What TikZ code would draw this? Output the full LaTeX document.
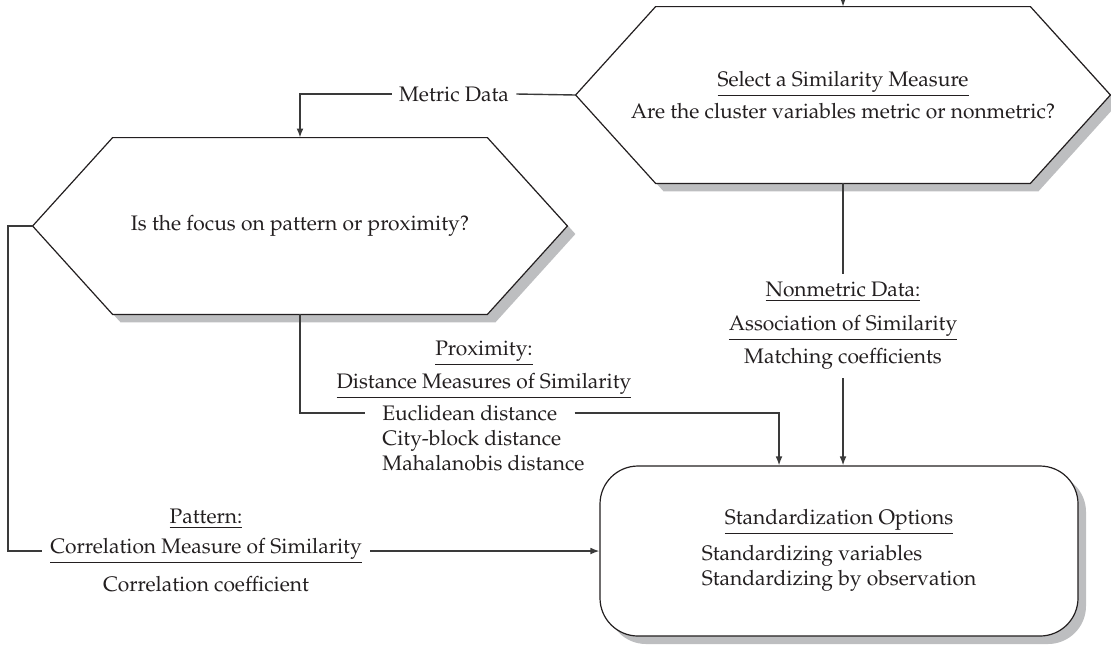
\documentclass[tikz,border=0pt]{standalone}
\usepackage[T1]{fontenc}
\usepackage{mathpazo}
\usetikzlibrary{arrows.meta,calc,shadows,backgrounds}
\definecolor{shadowgray}{HTML}{BDBEC0}
\definecolor{linegray}{HTML}{3A3A3A}
\definecolor{inkblack}{HTML}{231F20}
% hexagon outline around a rectangular node #1, shifted by #2 right and #2 down
\newcommand\hexpath[2]{([shift={(#2,-#2)}]#1.west) -- ([shift={(40pt+#2,-#2)}]#1.north west) -- ([shift={(-40pt+#2,-#2)}]#1.north east) -- ([shift={(#2,-#2)}]#1.east) -- ([shift={(-40pt+#2,-#2)}]#1.south east) -- ([shift={(40pt+#2,-#2)}]#1.south west) -- cycle}
\begin{document}
\begin{tikzpicture}[x=0.5pt,y=-0.5pt,
  every node/.style={text=inkblack, font=\fontsize{10.5}{12.5}\selectfont},
  line/.style={draw=linegray, line width=0.7pt},
  arr/.style={line, -{Latex[length=4.5pt,width=3.4pt]}},
  hexnode/.style={minimum width=267pt, minimum height=88pt, inner sep=0pt, align=center},
  hexshadow/.style={fill=shadowgray},
  hexline/.style={draw=inkblack, fill=white, line width=0.6pt, line join=miter},
  lbl/.style={align=center, inner sep=0pt},
  gaplbl/.style={inner ysep=2pt},
  stdbox/.style={draw=inkblack, fill=white, line width=0.6pt, rounded corners=19pt,
    minimum width=239pt, minimum height=85pt, align=center,
    drop shadow={shadow xshift=4pt, shadow yshift=-4pt, fill=shadowgray, opacity=1}}
]
\useasboundingbox (0,0) rectangle (1111,644);

% decision hexagons
\node[hexnode] (tophex) at (843,95)
  {\underline{Select a Similarity Measure}\\[2.5pt]Are the cluster variables metric or nonmetric?};
\node[hexnode] (midhex) at (300,226) {Is the focus on pattern or proximity?};
\begin{pgfonlayer}{background}
  \fill[hexshadow] \hexpath{tophex}{4pt};
  \path[hexline] \hexpath{tophex}{0pt};
  \fill[hexshadow] \hexpath{midhex}{4pt};
  \path[hexline] \hexpath{midhex}{0pt};
\end{pgfonlayer}

% outcome box
\node[stdbox] (stdbox) at (839,551)
  {\underline{Standardization Options}\\[3pt]
   \begin{tabular}{@{}l@{}}Standardizing variables\\Standardizing by observation\end{tabular}};

% labels
\node[gaplbl, inner xsep=3.5pt] (metric) at (454,94) {Metric Data};
\node[lbl, inner ysep=4pt] (nonmet) at (843,326)
  {\underline{Nonmetric Data:}\\[4.5pt]\underline{Association of Similarity}\\[3pt]Matching coefficients};
\node[lbl] (prox) at (484,370)
  {\underline{Proximity:}\\[3pt]\underline{Distance Measures of Similarity}};
\node[gaplbl, inner xsep=8.5pt, anchor=west] (euc) at (365,413) {Euclidean distance};
\node[inner sep=0pt, anchor=base west] (city) at (382,445) {City-block distance};
\node[inner sep=0pt, anchor=base west] (maha) at (382,470) {Mahalanobis distance};
\node[lbl] (pat) at (206,519) {\underline{Pattern:}};
\node[gaplbl, inner xsep=4pt] (corr) at (206,551) {\underline{Correlation Measure of Similarity}};
\node[lbl] (coef) at (206,584) {Correlation coefficient};

% connectors
\coordinate (topin) at (843,0);
\coordinate (leftc) at (8,226);
\draw[arr] (topin) -- (tophex.north);
\draw[line] (tophex.west) -- (metric.east);
\draw[arr] (metric.west) -| (midhex.north);
\draw[line] (tophex.south) -- (nonmet.north);
\draw[arr] (nonmet.south) -- (nonmet.south |- stdbox.north);
\draw[line] (midhex.south) |- (euc.west);
\draw[arr] (euc.east) -| ([xshift=-30pt]stdbox.north);
\draw[line] (midhex.west) -- (leftc) |- (corr.west);
\draw[arr] (corr.east) -- (stdbox.west);
\end{tikzpicture}
\end{document}
